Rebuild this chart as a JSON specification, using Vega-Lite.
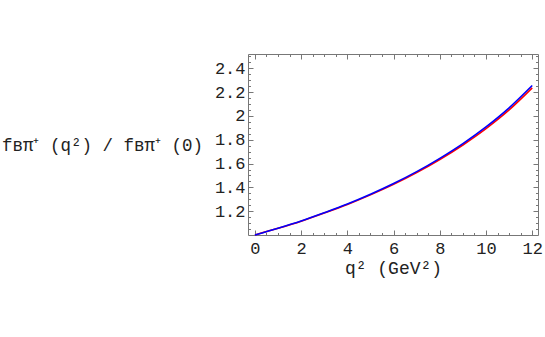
{
  "$schema": "https://vega.github.io/schema/vega-lite/v6.json",
  "width": 290,
  "height": 181,
  "autosize": {"type": "none"},
  "padding": {"left": 248, "top": 54, "right": 7, "bottom": 102},
  "background": "white",
  "config": {
    "view": {"stroke": "#777777", "strokeWidth": 1},
    "axis": {"grid": false, "domain": false, "labelFont": "Liberation Mono", "titleFont": "Liberation Mono", "labelColor": "#222222", "titleColor": "#222222", "titleFontWeight": "normal", "tickColor": "#777777"}
  },
  "data": {
    "values": [
      {"q2": 0, "ratio": 1.000, "series": "red"},
      {"q2": 1, "ratio": 1.056, "series": "red"},
      {"q2": 2, "ratio": 1.116, "series": "red"},
      {"q2": 3, "ratio": 1.184, "series": "red"},
      {"q2": 4, "ratio": 1.256, "series": "red"},
      {"q2": 5, "ratio": 1.337, "series": "red"},
      {"q2": 6, "ratio": 1.425, "series": "red"},
      {"q2": 7, "ratio": 1.524, "series": "red"},
      {"q2": 8, "ratio": 1.634, "series": "red"},
      {"q2": 9, "ratio": 1.756, "series": "red"},
      {"q2": 10, "ratio": 1.893, "series": "red"},
      {"q2": 11, "ratio": 2.050, "series": "red"},
      {"q2": 12, "ratio": 2.235, "series": "red"},
      {"q2": 0, "ratio": 1.000, "series": "blue"},
      {"q2": 1, "ratio": 1.057, "series": "blue"},
      {"q2": 2, "ratio": 1.118, "series": "blue"},
      {"q2": 3, "ratio": 1.187, "series": "blue"},
      {"q2": 4, "ratio": 1.260, "series": "blue"},
      {"q2": 5, "ratio": 1.342, "series": "blue"},
      {"q2": 6, "ratio": 1.432, "series": "blue"},
      {"q2": 7, "ratio": 1.532, "series": "blue"},
      {"q2": 8, "ratio": 1.644, "series": "blue"},
      {"q2": 9, "ratio": 1.768, "series": "blue"},
      {"q2": 10, "ratio": 1.908, "series": "blue"},
      {"q2": 11, "ratio": 2.068, "series": "blue"},
      {"q2": 12, "ratio": 2.255, "series": "blue"}
    ]
  },
  "resolve": {"axis": {"x": "independent", "y": "independent"}},
  "layer": [
    {
      "mark": {"type": "line", "opacity": 0},
      "encoding": {
        "x": {"field": "q2", "type": "quantitative", "scale": {"domain": [-0.3, 12.25], "nice": false, "zero": false},
          "axis": {"orient": "bottom", "values": [0,0.5,1,1.5,2,2.5,3,3.5,4,4.5,5,5.5,6,6.5,7,7.5,8,8.5,9,9.5,10,10.5,11,11.5,12], "labels": false, "tickSize": -2.5, "title": null}},
        "y": {"field": "ratio", "type": "quantitative", "scale": {"domain": [1.0, 2.52], "nice": false, "zero": false},
          "axis": {"orient": "left", "values": [1.05,1.1,1.15,1.2,1.25,1.3,1.35,1.4,1.45,1.5,1.55,1.6,1.65,1.7,1.75,1.8,1.85,1.9,1.95,2.0,2.05,2.1,2.15,2.2,2.25,2.3,2.35,2.4,2.45,2.5], "labels": false, "tickSize": -2.5, "title": null}},
        "detail": {"field": "series"}
      }
    },
    {
      "mark": {"type": "line", "opacity": 0},
      "encoding": {
        "x": {"field": "q2", "type": "quantitative",
          "axis": {"orient": "top", "values": [0,0.5,1,1.5,2,2.5,3,3.5,4,4.5,5,5.5,6,6.5,7,7.5,8,8.5,9,9.5,10,10.5,11,11.5,12], "labels": false, "tickSize": -2.5, "title": null}},
        "y": {"field": "ratio", "type": "quantitative",
          "axis": {"orient": "right", "values": [1.05,1.1,1.15,1.2,1.25,1.3,1.35,1.4,1.45,1.5,1.55,1.6,1.65,1.7,1.75,1.8,1.85,1.9,1.95,2.0,2.05,2.1,2.15,2.2,2.25,2.3,2.35,2.4,2.45,2.5], "labels": false, "tickSize": -2.5, "title": null}},
        "detail": {"field": "series"}
      }
    },
    {
      "mark": {"type": "line", "opacity": 0},
      "encoding": {
        "x": {"field": "q2", "type": "quantitative",
          "axis": {"orient": "top", "values": [0,2,4,6,8,10,12], "labels": false, "tickSize": -5, "title": null}},
        "y": {"field": "ratio", "type": "quantitative",
          "axis": {"orient": "right", "values": [1.2,1.4,1.6,1.8,2.0,2.2,2.4], "labels": false, "tickSize": -5, "title": null}},
        "detail": {"field": "series"}
      }
    },
    {
      "mark": {"type": "line", "strokeWidth": 1.6, "interpolate": "monotone"},
      "encoding": {
        "x": {"field": "q2", "type": "quantitative",
          "axis": {"orient": "bottom", "values": [0,2,4,6,8,10,12], "format": "~g", "tickSize": -5, "labelFontSize": 17, "labelPadding": 10, "title": "q² (GeV²)", "titleFontSize": 18, "titlePadding": 3}},
        "y": {"field": "ratio", "type": "quantitative",
          "axis": {"orient": "left", "values": [1.2,1.4,1.6,1.8,2.0,2.2,2.4], "format": "~g", "tickSize": -5, "labelFontSize": 17, "labelPadding": 8, "title": "fʙπ⁺ (q²) / fʙπ⁺ (0)", "titleFontSize": 17.5, "titleAngle": 0, "titleAlign": "center", "titleBaseline": "middle", "titleX": -146, "titleY": 91}},
        "color": {"field": "series", "type": "nominal", "scale": {"domain": ["red", "blue"], "range": ["#ff0000", "#0000ff"]}, "legend": null}
      }
    }
  ]
}
